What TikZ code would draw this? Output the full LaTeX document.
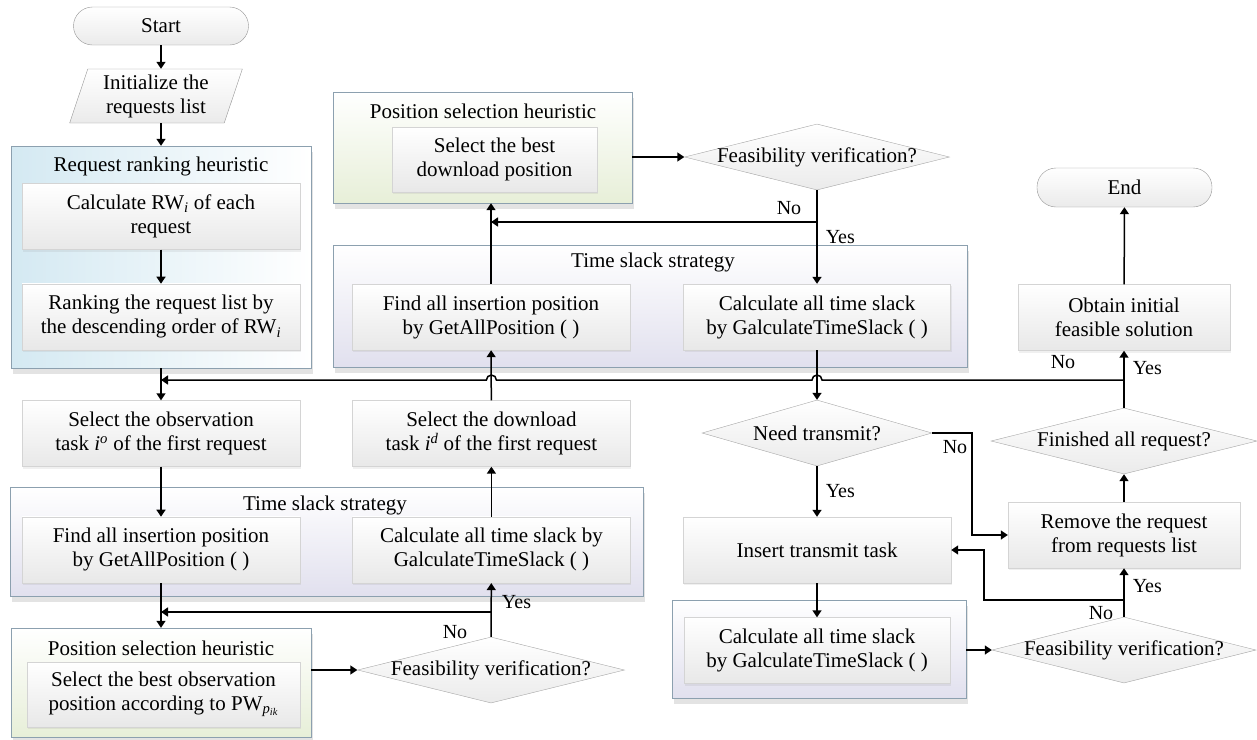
\documentclass[tikz,border=0pt]{standalone}
\usepackage{fontspec}
\setmainfont{Liberation Serif}
\usepackage{tikz}
\usetikzlibrary{positioning}
\usetikzlibrary{shapes.geometric,arrows.meta,calc,shadows}
\definecolor{boxline}{RGB}{212,212,212}
\definecolor{grpline}{RGB}{140,160,175}
\definecolor{termline}{RGB}{150,150,150}
\definecolor{rankblue}{RGB}{212,233,242}
\definecolor{posgreen}{RGB}{231,239,216}
\definecolor{slackpurple}{RGB}{225,224,238}
\tikzstyle{terminal} = [rectangle, rounded corners=19pt, minimum width=175pt, minimum height=38pt, text centered, draw=termline, top color=white, bottom color=black!8]
\tikzstyle{io} = [trapezium, trapezium left angle=72, trapezium right angle=108, trapezium stretches=true, minimum width=173pt, minimum height=54pt, align=center, inner sep=0pt, draw=termline, top color=white, bottom color=black!8]
\tikzstyle{process} = [rectangle, minimum height=66pt, align=center, draw=boxline, top color=white, bottom color=black!9, drop shadow={opacity=0.12, shadow xshift=1pt, shadow yshift=-2pt}]
\tikzstyle{decision} = [diamond, minimum width=266pt, minimum height=66pt, inner sep=0pt, draw=black!35, top color=white, bottom color=black!8]
\tikzstyle{groupbox} = [rectangle, draw=grpline, drop shadow={opacity=0.22, shadow xshift=2pt, shadow yshift=-6pt}]
\tikzstyle{grouptitle} = [inner sep=0pt]
\tikzstyle{lbl} = [inner sep=0pt, font=\fontsize{20pt}{22pt}\selectfont]
\tikzstyle{arrow} = [line width=1.5pt, -{Triangle[length=7pt,width=9pt]}]

\begin{document}
\begin{tikzpicture}[x=1pt, y=-1pt, font=\fontsize{21pt}{24pt}\selectfont]
\useasboundingbox (0,0) rectangle (1257,739);
\node (rankgrp) [groupbox, left color=rankblue, right color=white, minimum width=300pt, minimum height=222pt] at (161,257) {};
\node (slackgrplow) [groupbox, top color=white, bottom color=slackpurple, minimum width=633pt, minimum height=109pt] at (326.5,541.5) {};
\node (posgrplow) [groupbox, top color=white, bottom color=posgreen, minimum width=300pt, minimum height=109pt] at (161,682.5) {};
\node (posgrpup) [groupbox, top color=white, bottom color=posgreen, minimum width=299pt, minimum height=111pt] at (482.5,147.5) {};
\node (slackgrpup) [groupbox, top color=white, bottom color=slackpurple, minimum width=634pt, minimum height=122pt] at (650,306) {};
\node (slackgrpright) [groupbox, top color=white, bottom color=slackpurple, minimum width=294pt, minimum height=98pt] at (819,649) {};

\node (ranktitle) [grouptitle] at (161,166) {Request ranking heuristic};
\node (slacktitlelow) [grouptitle] at (325,505) {Time slack strategy};
\node (postitlelow) [grouptitle] at (161,648) {Position selection heuristic};
\node (postitleup) [grouptitle] at (483,111) {Position selection heuristic};
\node (slacktitleup) [grouptitle] at (653,262) {Time slack strategy};

\node (start) [terminal] at (161,26) {Start};
\node (init) [io] at (156,96) {Initialize the\\requests list};
\node (calcrw) [process, minimum width=278pt] at (161,216.5) {Calculate RW\textsubscript{\textit{i}} of each\\request};
\node (rankrw) [process, minimum width=278pt, below=34pt of calcrw] {Ranking the request list by\\the descending order of RW\textsubscript{\textit{i}}};
\node (selobs) [process, minimum width=278pt] at (161,433.5) {Select the observation\\task \textit{i}\textsuperscript{\textit{o}} of the first request};
\node (findlow) [process, minimum width=278pt, below=50pt of selobs] {Find all insertion position\\by GetAllPosition ( )};
\node (calclow) [process, minimum width=278pt, right=52pt of findlow] {Calculate all time slack by\\GalculateTimeSlack ( )};
\node (poslow) [process, minimum width=273pt, minimum height=65pt] at (163.5,694.5) {Select the best observation\\position according to PW\textsubscript{\textit{p}\textsubscript{\textit{ik}}}};
\node (feaslow) [decision, minimum width=267pt] at (491,670) {\makebox[0pt]{Feasibility verification?}};
\node (seldl) [process, minimum width=278pt, above=50pt of calclow] {Select the download\\task \textit{i}\textsuperscript{\textit{d}} of the first request};
\node (findup) [process, minimum width=278pt] at (491,317) {Find all insertion position\\by GetAllPosition ( )};
\node (posup) [process, minimum width=205pt, minimum height=65pt] at (494.5,159.5) {Select the best\\download position};
\node (feasup) [decision, minimum width=265pt] at (817,157) {\makebox[0pt]{Feasibility verification?}};
\node (calcup) [process, minimum width=267pt] at (817,317) {Calculate all time slack\\by GalculateTimeSlack ( )};
\node (need) [decision, minimum width=230pt] at (817,433) {\makebox[0pt]{Need transmit?}};
\node (insert) [process, minimum width=268pt] at (817,550) {Insert transmit task};
\node (calcrt) [process, minimum width=266pt] at (817,650.5) {Calculate all time slack\\by GalculateTimeSlack ( )};
\node (feasright) [decision, minimum width=264pt] at (1124,650) {\makebox[0pt]{Feasibility verification?}};
\node (remove) [process, minimum width=232pt] at (1124,535) {Remove the request\\from requests list};
\node (finish) [decision] at (1124,441) {\makebox[0pt]{Finished all request?}};
\node (obtain) [process, minimum width=212pt] at (1124,317.5) {Obtain initial\\feasible solution};
\node (end) [terminal, minimum height=39pt] at (1124.5,187.5) {End};

\coordinate (jmain) at (1124,380);
\coordinate (jup) at (817,222);
\coordinate (jlow) at (491,612);
\coordinate (jright) at (1124,600);

\draw [arrow] (start) -- (start |- init.north);
\draw [arrow] (rankgrp |- init.south) -- (rankgrp);
\draw [arrow] (calcrw) -- (rankrw);
\draw [arrow] (rankgrp) -- (selobs);
\draw [arrow] (selobs) -- (findlow);
\draw [arrow] (findlow) -- (posgrplow);
\draw [arrow] (feaslow.west -| posgrplow.east) -- (feaslow.west);
\draw [arrow] (feaslow) -- node (yeslow) [lbl, pos=0.65, right=10pt] {Yes} (calclow);
\draw [arrow] (jlow) -- (jlow -| findlow);
\draw [arrow] (calclow) -- (seldl);
\draw [arrow] (seldl) -- (findup);
\draw [arrow] (findup) -- (findup |- posgrpup.south);
\draw [arrow] (feasup.west -| posgrpup.east) -- (feasup.west);
\draw [arrow] (feasup) -- node (yesup) [lbl, right=8pt] {Yes} (calcup);
\draw [arrow] (jup) -- (jup -| findup);
\draw [arrow] (calcup) -- (need);
\draw [arrow] (need) -- node (yesneed) [lbl, right=8pt] {Yes} (insert);
\draw [arrow] (need.east) -- ++(40,0) |- (remove.west);
\draw [arrow] (insert) -- (calcrt);
\draw [arrow] (feasright.west -| slackgrpright.east) -- (feasright.west);
\draw [arrow] (feasright) -- node (yesrm) [lbl, pos=0.64, right=8pt] {Yes} (remove);
\draw [arrow] (jright) -- ++(-140,0) |- (insert.east);
\draw [arrow] (remove) -- (finish);
\draw [arrow] (finish) -- node (yesfin) [lbl, pos=0.7, right=8pt] {Yes} (obtain);
\draw [arrow] (obtain) -- (end);
\draw [arrow] (jmain) -- ($(need.north |- jmain)+(5,0)$) arc[start angle=0, end angle=180, radius=5pt]
  -- ($(seldl.north |- jmain)+(5,0)$) arc[start angle=0, end angle=180, radius=5pt]
  -- (selobs.north |- jmain);

\node (noup) [lbl] at (789,208) {No};
\node (noneed) [lbl] at (955,447) {No};
\node (nofin) [lbl] at (1063,362) {No};
\node (norm) [lbl] at (1101,613) {No};
\node (nolow) [lbl] at (455,632) {No};
\end{tikzpicture}
\end{document}
